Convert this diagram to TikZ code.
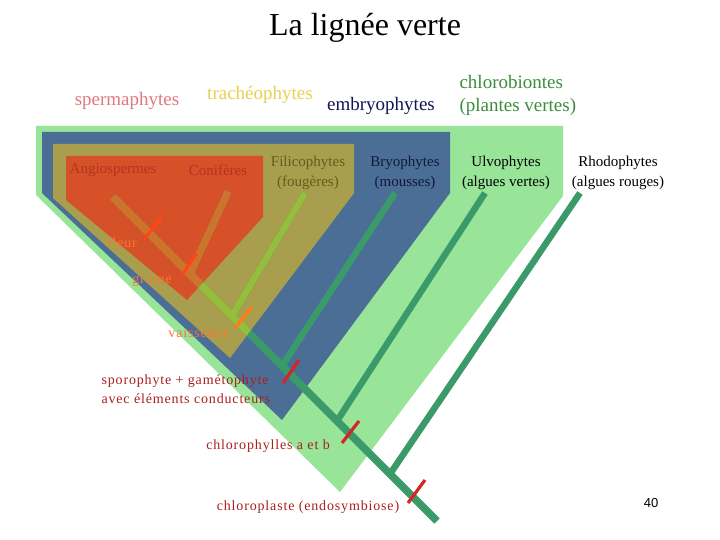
\documentclass[tikz,border=0pt]{standalone}
\usepackage{fontspec}
\setmainfont{Liberation Serif}
\newfontfamily\slidesans{Liberation Sans}
\usepackage{tikz}

\definecolor{cladeLG}{RGB}{152,228,152}
\definecolor{cladeBlue}{RGB}{74,110,150}
\definecolor{cladeOlive}{RGB}{168,158,78}
\definecolor{cladeRed}{RGB}{214,80,40}
\definecolor{trunkGreen}{RGB}{58,154,106}
\definecolor{twigYellow}{RGB}{148,190,60}
\definecolor{twigOrange}{RGB}{204,116,46}
\definecolor{tickRed}{RGB}{212,38,38}
\definecolor{tickOrange}{RGB}{255,70,26}
\definecolor{tickAmber}{RGB}{255,122,26}
\definecolor{traitRed}{RGB}{170,30,30}
\definecolor{traitOrange}{RGB}{250,118,48}
\definecolor{spermPink}{RGB}{224,120,128}
\definecolor{tracheoYellow}{RGB}{232,208,80}
\definecolor{embryoNavy}{RGB}{20,20,90}
\definecolor{chloroGreen}{RGB}{60,140,60}
\definecolor{angioText}{RGB}{178,52,34}
\definecolor{filiText}{RGB}{104,90,28}
\definecolor{bryoText}{RGB}{20,24,60}

\begin{document}
\begin{tikzpicture}[x=1pt,y=-1pt,
  hdr/.style={font=\fontsize{19}{23}\selectfont},
  taxon/.style={align=center,font=\fontsize{15}{20}\selectfont},
  trait/.style={font=\fontsize{14}{19}\selectfont\addfontfeatures{LetterSpace=6}},
  branch/.style={line width=6.5pt},
  trunk/.style={line width=7.5pt},
  synapo/.style={line width=3.2pt}]
\useasboundingbox (0,0) rectangle (720,540);

  \fill[cladeLG] (36,126) -- (563,126) -- (563,196) -- (340,492) -- (36,195) -- cycle;
  \fill[cladeBlue] (42,132) -- (450,132) -- (450,193) -- (282,420) -- (42,193) -- cycle;
  \fill[cladeOlive] (53,144) -- (354,144) -- (354,193) -- (230,358) -- (53,198) -- cycle;
  \fill[cladeRed] (66,156) -- (263,156) -- (263,217) -- (187,300) -- (66,200) -- cycle;

  \coordinate (top) at (113,197);
  \coordinate (root) at (437,521);
  \coordinate (jCon) at (190,274);
  \coordinate (jFil) at (232,316);
  \coordinate (jBry) at (282,366);
  \coordinate (jUlv) at (337,421);
  \coordinate (jRho) at (390,474);
  \coordinate (tCon) at (228,192);
  \coordinate (tFil) at (305,193);
  \coordinate (tBry) at (395,193);
  \coordinate (tUlv) at (485,193);
  \coordinate (tRho) at (580,193);

  \draw[trunk,trunkGreen] (top) -- (root);
  \foreach \j/\t in {jCon/tCon,jFil/tFil,jBry/tBry,jUlv/tUlv,jRho/tRho}
    { \draw[branch,trunkGreen] (\j) -- (\t); }
\begin{scope}
  \clip (53,144) -- (354,144) -- (354,193) -- (230,358) -- (53,198) -- cycle;
  \draw[trunk,twigYellow] (top) -- (root);
  \foreach \j/\t in {jCon/tCon,jFil/tFil}
    { \draw[branch,twigYellow] (\j) -- (\t); }
\end{scope}
\begin{scope}
  \clip (66,156) -- (263,156) -- (263,217) -- (187,300) -- (66,200) -- cycle;
  \draw[trunk,twigOrange] (top) -- (root);
  \draw[branch,twigOrange] (jCon) -- (tCon);
\end{scope}

  \foreach \xa/\ya/\xb/\yb/\col in {145/238/162/217/tickOrange,182/275/197/253/tickOrange,
      235/328/252/307/tickAmber,283/383/299/360/tickRed,342/443/359/421/tickRed,408/503/425/480/tickRed}
    { \draw[synapo,\col] (\xa,\ya) -- (\xb,\yb); }

  \node[font=\fontsize{32}{36}\selectfont] (title) at (365,28) {La lignée verte};
  \node[hdr,spermPink] (sperma) at (127,101) {spermaphytes};
  \node[hdr,tracheoYellow] (tracheo) at (260,95) {trachéophytes};
  \node[hdr,embryoNavy] (embryo) at (381,106) {embryophytes};
  \node[hdr,chloroGreen,align=left,anchor=west] (chloro) at (456,95) {chlorobiontes\\(plantes vertes)};

  \node[taxon,angioText] (angio) at (113,170) {Angiospermes};
  \node[taxon,angioText] (conif) at (218,170) {Conifères};
  \node[taxon,filiText] (fili) at (308,173) {Filicophytes\\(fougères)};
  \node[taxon,bryoText] (bryo) at (405,173) {Bryophytes\\(mousses)};
  \node[taxon] (ulvo) at (506,173) {Ulvophytes\\(algues vertes)};
  \node[taxon] (rhodo) at (618,173) {Rhodophytes\\(algues rouges)};

  \node[trait,traitOrange] (fleur) at (122,243) {fleur};
  \node[trait,traitOrange] (graine) at (152,280) {graine};
  \node[trait,traitOrange] (vaiss) at (199,333) {vaisseaux};
  \node[trait,traitRed,align=left,anchor=west] (sporo) at (98,389) {sporophyte + gamétophyte\\avec  éléments conducteurs};
  \node[trait,traitRed] (chloph) at (268,446) {chlorophylles a et b};
  \node[trait,traitRed] (chlopl) at (308,507) {chloroplaste (endosymbiose)};
  \node[font=\slidesans\fontsize{13}{15}\selectfont] (page) at (651,503) {40};
\end{tikzpicture}
\end{document}
